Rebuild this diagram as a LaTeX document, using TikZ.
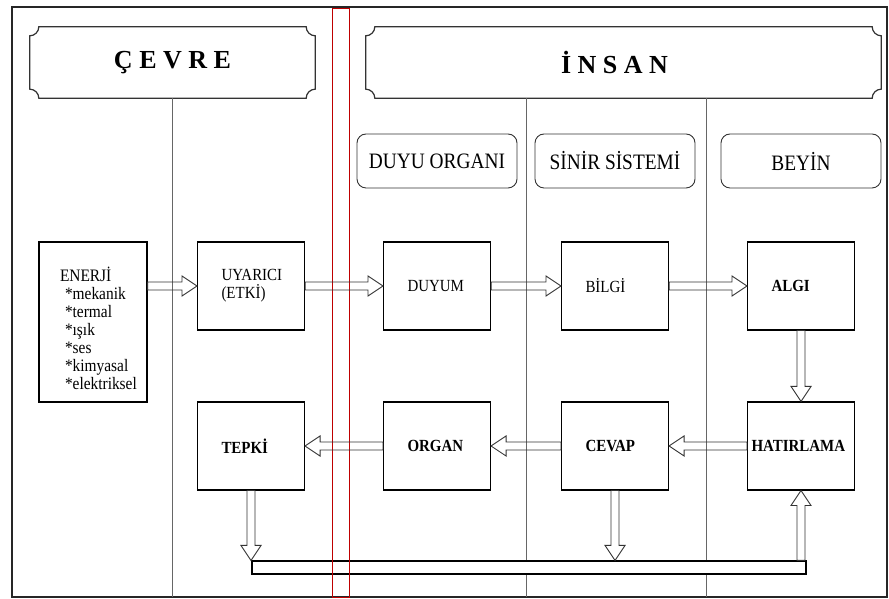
\documentclass[tikz,border=0pt]{standalone}
\usepackage{fontspec}
\setmainfont[FakeStretch=0.88]{Liberation Serif}
\newfontfamily\bannerfont{Liberation Serif}
\usepackage{tikz}
\usetikzlibrary{positioning, calc}

% frame with scooped corners round a banner node
\newcommand{\scrollframe}[1]{%
  \draw[black!80, line width=1.2pt] ([xshift=9pt]#1.north west) -- ([xshift=-9pt]#1.north east)
    arc[start angle=180, end angle=270, radius=9pt] -- ([yshift=9pt]#1.south east)
    arc[start angle=90, end angle=180, radius=9pt] -- ([xshift=9pt]#1.south west)
    arc[start angle=0, end angle=90, radius=9pt] -- ([yshift=-9pt]#1.north west)
    arc[start angle=270, end angle=360, radius=9pt] -- cycle;}

\begin{document}
\begin{tikzpicture}[x=1pt, y=1pt, node distance=160pt and 183pt, on grid,
    block/.style={draw, line width=1.1pt, text width=59pt, inner xsep=24pt, inner ysep=0pt,
      minimum height=88pt, align=left, font=\fontsize{17}{18}\selectfont},
    tag/.style={draw=black!80, line width=0.9pt, rounded corners=9pt, minimum width=160pt,
      minimum height=54pt, font=\fontsize{22}{24}\selectfont},
    banner/.style={minimum height=71pt, font=\bannerfont\bfseries\fontsize{26}{30}\selectfont},
    divider/.style={black!60, line width=0.9pt},
    hollow/.style={draw=black!80, line width=0.9pt, line join=miter,
      to path={let \p1=(\tikztostart), \p2=(\tikztotarget),
        \n1={atan2(\y2-\y1,\x2-\x1)}, \n2={veclen(\x2-\x1,\y2-\y1)} in
        [shift={(\p1)}, rotate=\n1]
        (0,-4) -- ({\n2-15},-4) -- ({\n2-15},-10) -- (\n2,0)
        -- ({\n2-15},10) -- ({\n2-15},4) -- (0,4) -- cycle}}]
  \useasboundingbox (0,0) rectangle (889,599);
  \draw[line width=1.2pt, black!85] (12,592) rectangle (887,2);
  \coordinate (floor) at (0,2);

  % headings
  \node[banner, minimum width=285pt] (cevre) at (172.5,536.5) {Ç E V R E};
  \node[banner, minimum width=515pt] (insan) at (623.5,536.5) {İ N S A N\hspace*{18pt}};
  \scrollframe{cevre}
  \scrollframe{insan}
  \coordinate (cut1) at ([xshift=-97.5pt]insan.south);
  \coordinate (cut2) at ([xshift=82.5pt]insan.south);
  \draw[divider] (cevre.south) -- (cevre.south |- floor);
  \draw[divider] (cut1) -- (cut1 |- floor);
  \draw[divider] (cut2) -- (cut2 |- floor);

  % boxes
  \node[draw, line width=1.1pt, text width=66pt, inner xsep=21pt, minimum height=160pt,
    align=left, font=\fontsize{17.5}{18}\selectfont] (enerji) at (93,277)
    {\rule{0pt}{28pt}ENERJİ\\\hspace*{5pt}*mekanik\\\hspace*{5pt}*termal\\\hspace*{5pt}*ışık\\
     \hspace*{5pt}*ses\\\hspace*{5pt}*kimyasal\\\hspace*{5pt}\mbox{*elektriksel}};
  \node[block] (uyarici) at (251,313) {UYARICI\\(ETKİ)};
  \node[block] (duyum) [right=186pt of uyarici] {DUYUM};
  \node[block] (bilgi) [right=178pt of duyum] {BİLGİ};
  \node[block] (algi) [right=186pt of bilgi] {\bfseries ALGI};
  \node[block] (tepki) [below=of uyarici] {\bfseries TEPKİ};
  \node[block] (organ) [below=of duyum] {\bfseries ORGAN};
  \node[block] (cevap) [below=of bilgi] {\bfseries CEVAP};
  \node[block, text width=99pt, inner xsep=4pt] (hatirlama) [below=of algi] {\bfseries HATIRLAMA};

  \node[tag] (duyu) [above=125pt of duyum] {DUYU ORGANI};
  \node[tag] (sinir) [above=125pt of bilgi] {SİNİR SİSTEMİ};
  \node[tag] (beyin) [above=125pt of algi] {BEYİN};

  \node[draw, fill=white, line width=1.1pt, minimum width=554pt, minimum height=13pt,
    inner sep=0pt] (bus) at (529,31.5) {};
  \draw[red!75!black, line width=0.9pt] (332,591) rectangle (349,2);

  % arrows
  \draw[hollow] (enerji.east |- uyarici.west) to (uyarici.west);
  \draw[hollow] (uyarici.east) to (duyum.west);
  \draw[hollow] (duyum.east) to (bilgi.west);
  \draw[hollow] (bilgi.east) to (algi.west);
  \draw[hollow] (algi.south) to (hatirlama.north);
  \draw[hollow] (hatirlama.west) to (cevap.east);
  \draw[hollow] (cevap.west) to (organ.east);
  \draw[hollow] (organ.west) to (tepki.east);
  \draw[hollow] (tepki.south) to (tepki.south |- bus.north);
  \draw[hollow] (cevap.south) to (cevap.south |- bus.north);
  \draw[hollow] (hatirlama.south |- bus.north) to (hatirlama.south);
\end{tikzpicture}
\end{document}
